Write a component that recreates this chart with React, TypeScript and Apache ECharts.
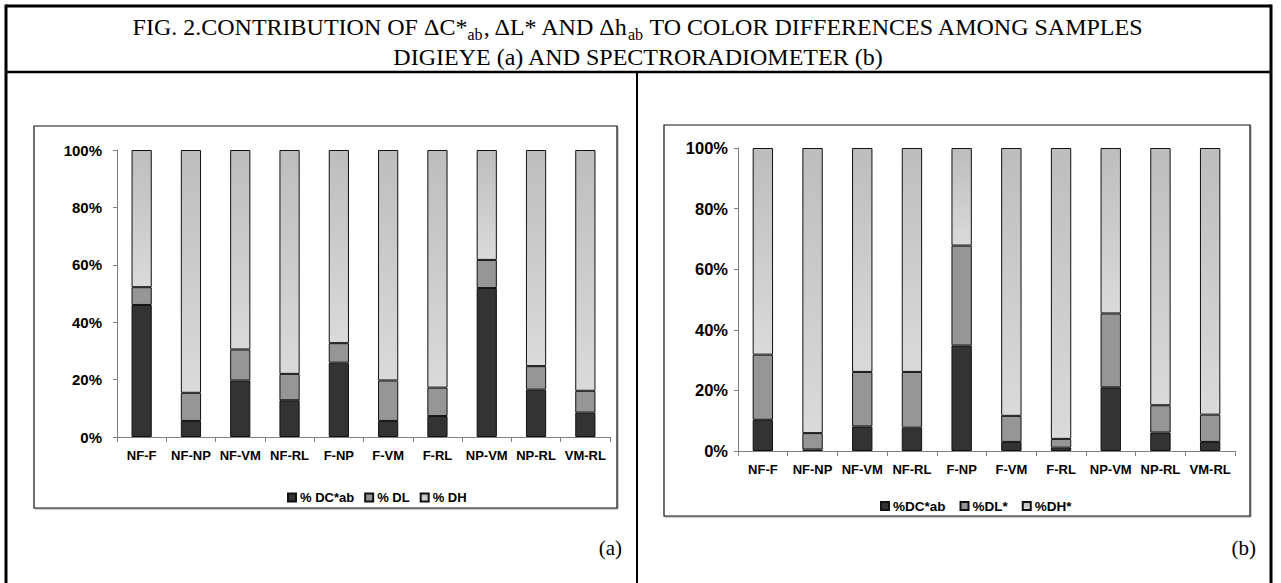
import React, { useEffect, useRef } from "react";
import * as echarts from "echarts";

const categories = ["NF-F", "NF-NP", "NF-VM", "NF-RL", "F-NP", "F-VM", "F-RL", "NP-VM", "NP-RL", "VM-RL"];

// (a) DigiEye
const digiDC = [46.0, 5.6, 19.7, 12.8, 25.9, 5.6, 7.3, 51.9, 16.5, 8.5];
const digiDL = [6.2, 9.8, 10.8, 9.2, 6.8, 14.1, 9.9, 9.8, 8.2, 7.6];
const digiDH = [47.8, 84.6, 69.5, 78.0, 67.3, 80.3, 82.8, 38.3, 75.3, 83.9];

// (b) Spectroradiometer
const specDC = [10.3, 0.5, 8.1, 7.7, 34.8, 3.0, 1.1, 21.0, 6.1, 3.0];
const specDL = [21.5, 5.4, 18.0, 18.4, 33.0, 8.6, 2.9, 24.4, 9.0, 9.0];
const specDH = [68.2, 94.1, 73.9, 73.9, 32.2, 88.4, 96.0, 54.6, 84.9, 88.0];

const legendA = ["% DC*ab", "% DL", "% DH"];
const legendB = ["%DC*ab", "%DL*", "%DH*"];

const yMin = 0;
const yMax = 100;
const yStep = 20;

const SANS = "'Liberation Sans', Arial, sans-serif";
const SERIF = "'Liberation Serif', 'Times New Roman', serif";

export default function App() {
  const ref = useRef<HTMLDivElement>(null);

  useEffect(() => {
    if (!ref.current) return;
    const chart = echarts.init(ref.current, undefined, { renderer: "svg" });

    const dhFill = new echarts.graphic.LinearGradient(0, 0, 0, 1, [
      { offset: 0, color: "#bdbdbd" },
      { offset: 1, color: "#dadada" },
    ]);
    const colors = ["#333333", "#969696", dhFill];

    const bold = { fontFamily: SANS, fontWeight: "bold" as const, color: "#000" };

    const mkX = (gridIndex: number, margin: number) => ({
      type: "category" as const,
      gridIndex,
      data: categories,
      axisLine: { lineStyle: { color: "#808080", width: 1 } },
      axisTick: { show: true, length: 5, lineStyle: { color: "#808080" } },
      axisLabel: { ...bold, fontSize: 13, margin, interval: 0 },
    });
    const mkY = (gridIndex: number, margin: number, fontSize: number) => ({
      type: "value" as const,
      gridIndex,
      min: yMin,
      max: yMax,
      interval: yStep,
      axisLine: { show: true, lineStyle: { color: "#808080", width: 1 } },
      axisTick: { show: true, length: 4, lineStyle: { color: "#808080" } },
      splitLine: { show: false },
      axisLabel: { ...bold, fontSize, margin, formatter: "{value}%" },
    });

    const mkSeries = (names: string[], vals: number[][], idx: number, stack: string) =>
      names.map((n, i) => ({
        name: n,
        type: "bar" as const,
        stack,
        xAxisIndex: idx,
        yAxisIndex: idx,
        barWidth: "41%",
        data: vals[i],
        itemStyle: { color: colors[i], borderColor: "#111", borderWidth: 1 },
      }));

    const legendCommon = {
      orient: "horizontal" as const,
      icon: "rect",
      itemWidth: 8,
      itemHeight: 8,
    };

    const hLine = (x1: number, y1: number, x2: number, y2: number, w: number) => ({
      type: "line",
      shape: { x1, y1, x2, y2 },
      style: { stroke: "#000", lineWidth: w },
      z: 10,
    });

    const box = (x: number, y: number, w: number, h: number) => [
      {
        type: "rect",
        shape: { x: x + 1, y: y + 1, width: w, height: h },
        style: { fill: "none", stroke: "#9a9a9a", lineWidth: 1 },
        z: -2,
      },
      {
        type: "rect",
        shape: { x, y, width: w, height: h },
        style: { fill: "#fff", stroke: "#111", lineWidth: 1.2 },
        z: -1,
      },
    ];

    chart.setOption({
      animation: false,
      backgroundColor: "#fff",
      grid: [
        { left: 117, top: 150, width: 493, height: 287 },
        { left: 738, top: 148, width: 497, height: 303 },
      ],
      xAxis: [mkX(0, 12), mkX(1, 12)],
      yAxis: [mkY(0, 15, 15), mkY(1, 10, 16.5)],
      legend: [
        {
          ...legendCommon,
          data: legendA,
          left: 282,
          top: 486,
          itemGap: 10,
          textStyle: { ...bold, fontSize: 13, padding: [0, 0, 0, -1] },
        },
        {
          ...legendCommon,
          data: legendB,
          left: 875,
          top: 494,
          itemGap: 14,
          textStyle: { ...bold, fontSize: 13.5, padding: [0, 0, 0, -1] },
        },
      ],
      series: [
        ...mkSeries(legendA, [digiDC, digiDL, digiDH], 0, "a"),
        ...mkSeries(legendB, [specDC, specDL, specDH], 1, "b"),
      ],
      graphic: [
        ...box(34, 126, 583, 382),
        ...box(664, 125, 586, 391),
        hLine(6, 6, 1271, 6, 3),
        hLine(6, 4.5, 6, 590, 3),
        hLine(1271, 4.5, 1271, 590, 3),
        hLine(6, 72, 1271, 72, 2.5),
        hLine(637, 72, 637, 590, 2),
        {
          type: "text",
          x: 638,
          y: 27,
          style: {
            text: "FIG. 2.CONTRIBUTION OF ΔC*{s|ab}, ΔL* AND Δh{s|ab} TO COLOR DIFFERENCES AMONG SAMPLES",
            fontFamily: SERIF,
            fontSize: 24,
            lineHeight: 30,
            fill: "#000",
            align: "center",
            verticalAlign: "middle",
            rich: {
              s: { fontFamily: SERIF, fontSize: 16, lineHeight: 19, verticalAlign: "bottom", fill: "#000" },
            },
          },
          z: 10,
        },
        {
          type: "text",
          x: 638,
          y: 57,
          style: {
            text: "DIGIEYE (a) AND SPECTRORADIOMETER (b)",
            fontFamily: SERIF,
            fontSize: 24,
            fill: "#000",
            align: "center",
            verticalAlign: "middle",
          },
          z: 10,
        },
        {
          type: "text",
          x: 622,
          y: 548,
          style: { text: "(a)", fontFamily: SERIF, fontSize: 21, fill: "#000", align: "right", verticalAlign: "middle" },
          z: 10,
        },
        {
          type: "text",
          x: 1256,
          y: 548,
          style: { text: "(b)", fontFamily: SERIF, fontSize: 21, fill: "#000", align: "right", verticalAlign: "middle" },
          z: 10,
        },
      ],
    });

    return () => chart.dispose();
  }, []);

  return (
    <div
      ref={ref}
      style={{ position: "absolute", left: 0, top: 0, width: 1281, height: 583, background: "#fff" }}
    />
  );
}
